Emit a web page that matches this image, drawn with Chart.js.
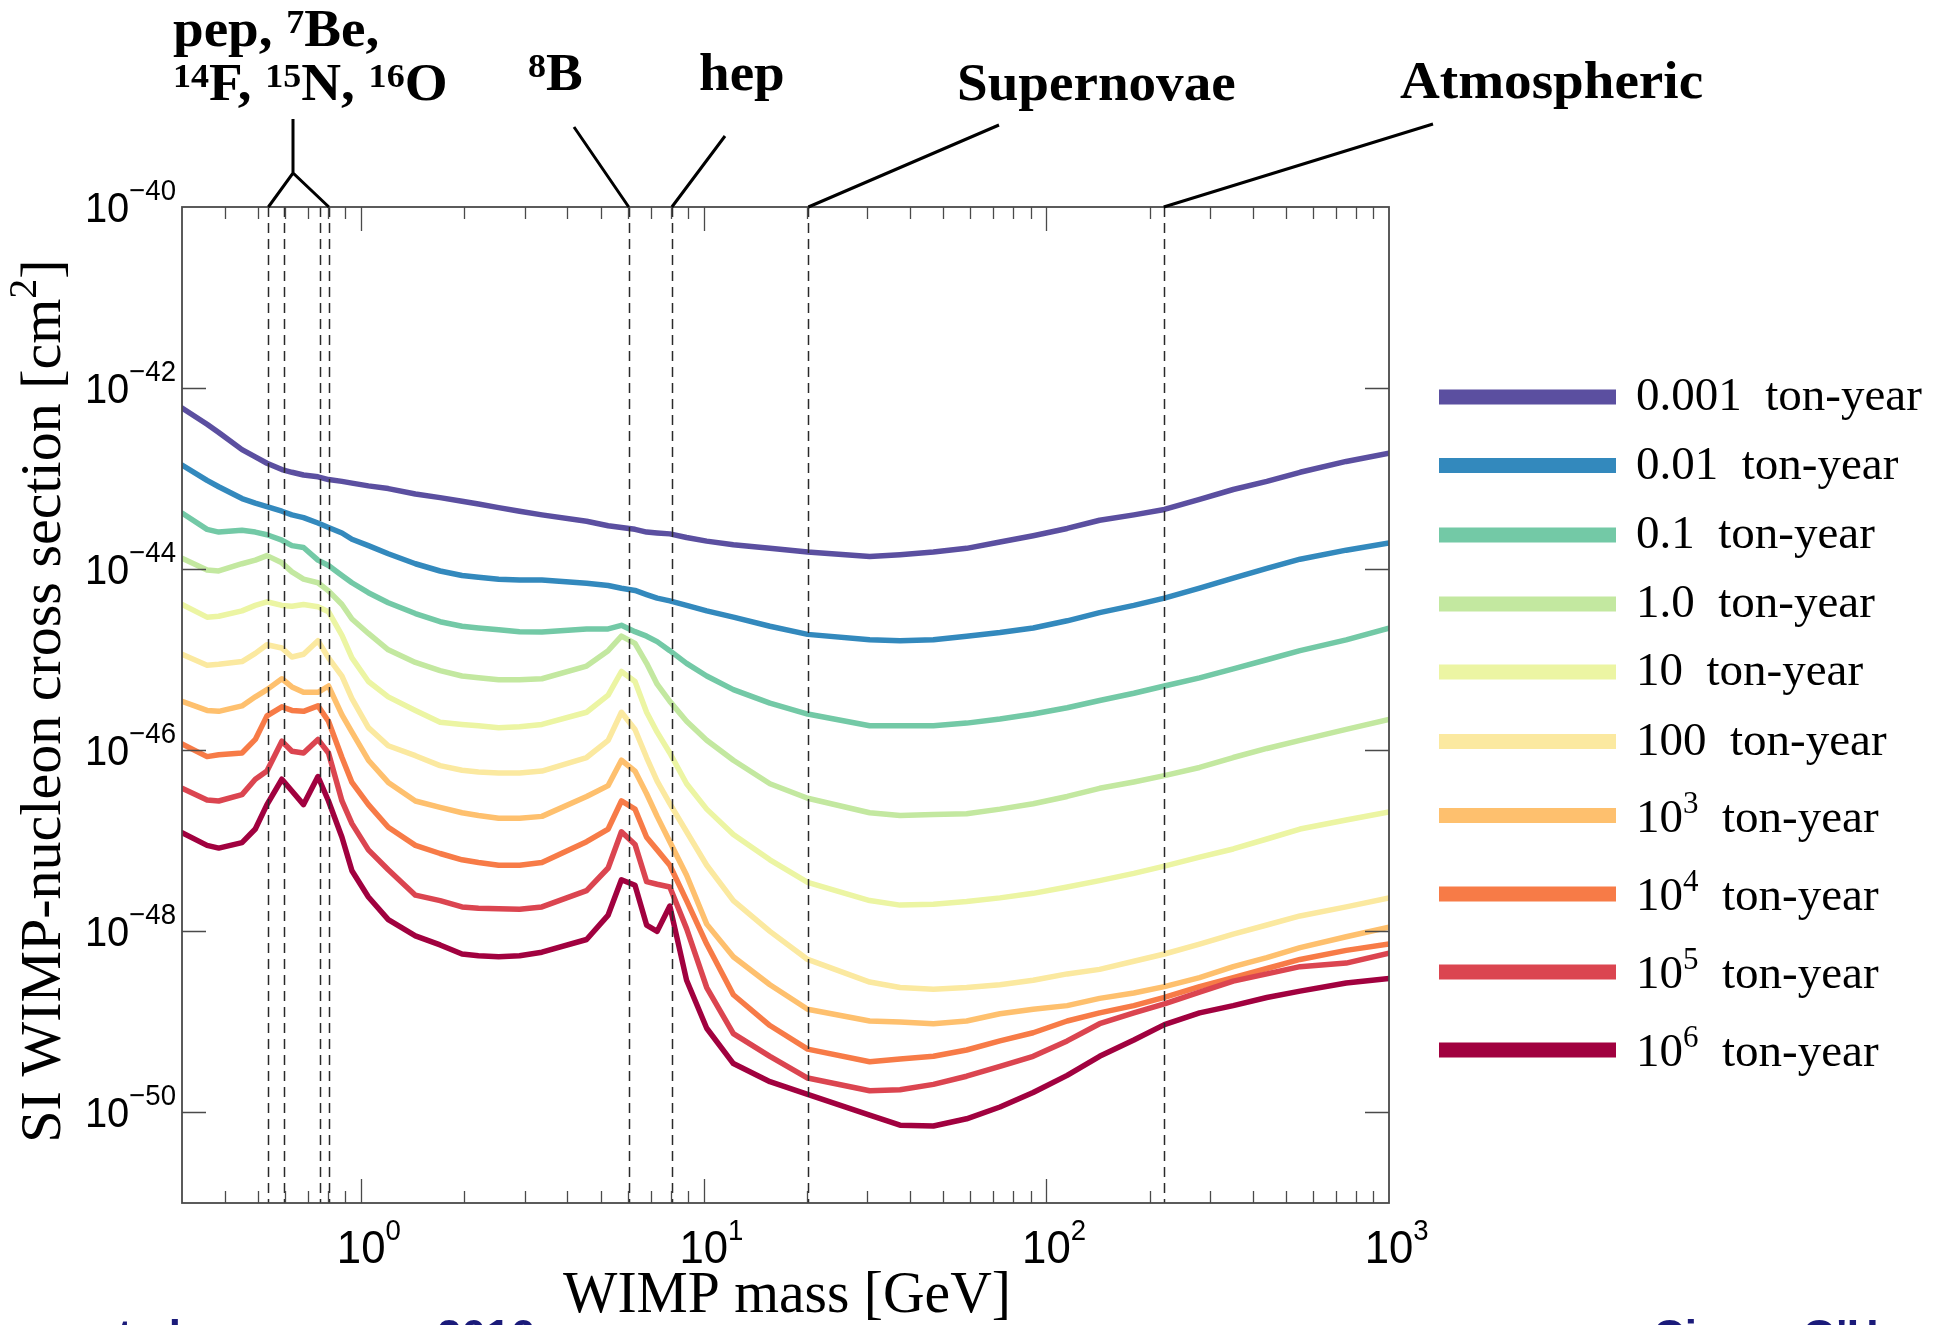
<!DOCTYPE html>
<html>
<head>
<meta charset="utf-8">
<title>WIMP discovery limits vs exposure</title>
<script src="https://cdn.jsdelivr.net/npm/chart.js@4.4.1/dist/chart.umd.min.js"></script>
<style>
  html, body { margin: 0; padding: 0; background: #fff; }
  canvas { display: block; }
</style>
</head>
<body>
<canvas id="limits" width="1945" height="1325"></canvas>
<script>
// WIMP masses [GeV] shared by every curve
const masses = [0.30, 0.355, 0.384, 0.449, 0.491, 0.531, 0.587, 0.628, 0.679, 0.748,
  0.803, 0.879, 0.94, 1.05, 1.20, 1.44, 1.7, 1.97, 2.2, 2.52,
  2.9, 3.37, 4.55, 5.26, 5.75, 6.30, 6.81, 7.31, 7.96, 8.91,
  10.2, 12.2, 15.6, 20.1, 30.5, 37.4, 46.8, 58.5, 73.2, 91.5,
  115, 143, 180, 221, 280, 351, 440, 550, 750, 1000];

// log10 of SI cross section [cm^2], one list per exposure
const tonYr0001 = [-42.22, -42.40, -42.49, -42.68, -42.76, -42.83, -42.90, -42.93, -42.96, -42.98,
  -43.01, -43.03, -43.05, -43.08, -43.11, -43.17, -43.21, -43.25, -43.28, -43.32,
  -43.36, -43.40, -43.47, -43.52, -43.54, -43.56, -43.59, -43.60, -43.61, -43.65,
  -43.69, -43.73, -43.77, -43.81, -43.86, -43.84, -43.81, -43.77, -43.70, -43.63,
  -43.55, -43.46, -43.40, -43.34, -43.23, -43.12, -43.03, -42.93, -42.81, -42.72];
const tonYr001 = [-42.85, -43.02, -43.09, -43.22, -43.27, -43.31, -43.36, -43.40, -43.43, -43.49,
  -43.54, -43.60, -43.67, -43.74, -43.83, -43.94, -44.02, -44.07, -44.09, -44.11,
  -44.12, -44.12, -44.155, -44.18, -44.21, -44.235, -44.28, -44.32, -44.35, -44.40,
  -44.46, -44.53, -44.63, -44.72, -44.78, -44.79, -44.78, -44.74, -44.70, -44.65,
  -44.57, -44.48, -44.40, -44.32, -44.21, -44.10, -43.99, -43.89, -43.79, -43.71];
const tonYr01 = [-43.38, -43.56, -43.59, -43.57, -43.59, -43.62, -43.68, -43.74, -43.76, -43.90,
  -43.96, -44.07, -44.15, -44.26, -44.37, -44.49, -44.58, -44.63, -44.65, -44.67,
  -44.69, -44.695, -44.66, -44.66, -44.62, -44.69, -44.74, -44.80, -44.90, -45.04,
  -45.18, -45.33, -45.48, -45.60, -45.73, -45.73, -45.73, -45.70, -45.655, -45.60,
  -45.53, -45.45, -45.37, -45.29, -45.20, -45.10, -45.00, -44.90, -44.78, -44.65];
const tonYr1 = [-43.88, -44.01, -44.02, -43.94, -43.90, -43.85, -43.93, -44.03, -44.11, -44.15,
  -44.24, -44.39, -44.55, -44.71, -44.89, -45.03, -45.12, -45.18, -45.20, -45.22,
  -45.22, -45.21, -45.07, -44.90, -44.74, -44.82, -45.04, -45.27, -45.46, -45.68,
  -45.89, -46.11, -46.37, -46.53, -46.69, -46.72, -46.71, -46.70, -46.65, -46.59,
  -46.51, -46.42, -46.35, -46.28, -46.19, -46.08, -45.98, -45.89, -45.77, -45.66];
const tonYr10 = [-44.39, -44.53, -44.52, -44.46, -44.40, -44.36, -44.40, -44.41, -44.39, -44.415,
  -44.47, -44.73, -44.98, -45.24, -45.41, -45.56, -45.69, -45.715, -45.73, -45.75,
  -45.74, -45.715, -45.58, -45.39, -45.13, -45.24, -45.58, -45.80, -46.03, -46.37,
  -46.65, -46.93, -47.21, -47.46, -47.66, -47.71, -47.70, -47.67, -47.63, -47.58,
  -47.51, -47.44, -47.36, -47.28, -47.18, -47.09, -46.98, -46.87, -46.77, -46.68];
const tonYr100 = [-44.94, -45.06, -45.05, -45.02, -44.93, -44.835, -44.87, -44.97, -44.94, -44.79,
  -44.98, -45.18, -45.43, -45.75, -45.95, -46.06, -46.17, -46.22, -46.24, -46.25,
  -46.25, -46.23, -46.08, -45.89, -45.58, -45.77, -46.08, -46.34, -46.59, -46.90,
  -47.27, -47.66, -48.00, -48.31, -48.56, -48.62, -48.64, -48.62, -48.59, -48.54,
  -48.47, -48.42, -48.33, -48.25, -48.14, -48.03, -47.93, -47.83, -47.73, -47.63];
const tonYr1e3 = [-45.46, -45.56, -45.57, -45.51, -45.41, -45.33, -45.21, -45.30, -45.36, -45.36,
  -45.29, -45.61, -45.80, -46.11, -46.355, -46.56, -46.63, -46.69, -46.72, -46.75,
  -46.75, -46.73, -46.51, -46.39, -46.11, -46.23, -46.48, -46.73, -47.01, -47.38,
  -47.92, -48.28, -48.59, -48.86, -48.99, -49.00, -49.02, -48.99, -48.91, -48.86,
  -48.82, -48.74, -48.68, -48.61, -48.51, -48.39, -48.29, -48.18, -48.06, -47.955];
const tonYr1e4 = [-45.93, -46.07, -46.05, -46.03, -45.88, -45.62, -45.52, -45.56, -45.57, -45.51,
  -45.68, -46.08, -46.355, -46.60, -46.85, -47.05, -47.14, -47.21, -47.24, -47.27,
  -47.27, -47.24, -47.01, -46.87, -46.56, -46.65, -46.96, -47.10, -47.27, -47.66,
  -48.14, -48.70, -49.04, -49.30, -49.44, -49.41, -49.38, -49.31, -49.21, -49.12,
  -48.99, -48.90, -48.82, -48.73, -48.61, -48.51, -48.41, -48.31, -48.21, -48.14];
const tonYr1e5 = [-46.42, -46.55, -46.56, -46.49, -46.32, -46.23, -45.90, -46.01, -46.03, -45.88,
  -46.03, -46.56, -46.81, -47.10, -47.32, -47.60, -47.66, -47.73, -47.745, -47.75,
  -47.755, -47.73, -47.55, -47.30, -46.90, -47.04, -47.45, -47.48, -47.51, -47.97,
  -48.62, -49.13, -49.38, -49.62, -49.76, -49.75, -49.69, -49.60, -49.49, -49.38,
  -49.21, -49.02, -48.90, -48.80, -48.67, -48.55, -48.47, -48.39, -48.35, -48.24];
const tonYr1e6 = [-46.91, -47.05, -47.08, -47.02, -46.87, -46.60, -46.32, -46.45, -46.60, -46.29,
  -46.56, -46.96, -47.33, -47.62, -47.87, -48.05, -48.15, -48.25, -48.27, -48.28,
  -48.27, -48.23, -48.09, -47.82, -47.43, -47.49, -47.93, -48.00, -47.72, -48.54,
  -49.07, -49.46, -49.66, -49.80, -50.03, -50.14, -50.15, -50.07, -49.94, -49.78,
  -49.59, -49.38, -49.20, -49.03, -48.90, -48.82, -48.73, -48.66, -48.57, -48.52];

const exposureLabels = ["0.001  ton-year", "0.01  ton-year", "0.1  ton-year", "1.0  ton-year",
  "10  ton-year", "100  ton-year", "10^{3}  ton-year", "10^{4}  ton-year", "10^{5}  ton-year", "10^{6}  ton-year"];
const lineColors = ["#5b4fa0", "#3389bd", "#73c9a6", "#c3e8a0", "#ecf5a3",
  "#fbe9a0", "#fec06e", "#f77b47", "#db4550", "#a1013f"];

// neutrino background edges (dashed lines) [GeV]
const neutrinoMasses = [0.536, 0.597, 0.760, 0.805, 6.04, 8.07, 20.2, 220];
const xTickExps = [0, 1, 2, 3];
const yTickExps = [-40, -42, -44, -46, -48, -50];

const allSeries = [tonYr0001, tonYr001, tonYr01, tonYr1, tonYr10, tonYr100, tonYr1e3, tonYr1e4, tonYr1e5, tonYr1e6];

const SERIF = '"Liberation Serif", "Times New Roman", serif';
const SANS = '"Liberation Sans", Arial, sans-serif';

// "pep, ^{7}Be," -> [{t:"pep, "}, {t:"7", sup:true}, {t:"Be,"}]
const parseRich = (str) => {
  const parts = [];
  const re = /\^\{([^}]*)\}/g;
  let last = 0, m;
  while ((m = re.exec(str)) !== null) {
    if (m.index > last) parts.push({ t: str.slice(last, m.index) });
    parts.push({ t: m[1], sup: true });
    last = re.lastIndex;
  }
  if (last < str.length) parts.push({ t: str.slice(last) });
  return parts;
};

const richText = (ctx, parts, x, y, o) => {
  const font = (s) => `${o.weight || "normal"} ${s}px ${o.family}`;
  let w = 0;
  parts.forEach((p) => {
    ctx.font = font(p.sup ? o.supSize : o.size);
    p.w = ctx.measureText(p.t).width;
    w += p.w;
  });
  ctx.save();
  ctx.translate(x, y);
  ctx.scale(o.sx || 1, 1);
  let cx = 0;
  if (o.align === "right") cx = -w;
  else if (o.align === "center") cx = -w / 2;
  else if (o.align === "first") cx = -parts[0].w / 2;
  ctx.fillStyle = o.color || "#000";
  ctx.textAlign = "left";
  ctx.textBaseline = "alphabetic";
  parts.forEach((p) => {
    ctx.font = font(p.sup ? o.supSize : o.size);
    ctx.fillText(p.t, cx, p.sup ? -o.raise : 0);
    cx += p.w;
  });
  ctx.restore();
};

const decorPlugin = {
  id: "decor",
  beforeDraw(chart) {
    const ctx = chart.ctx;
    ctx.save();
    ctx.fillStyle = "#fff";
    ctx.fillRect(0, 0, chart.width, chart.height);
    ctx.restore();
  },
  afterDatasetsDraw(chart) {
    const { ctx, chartArea: a } = chart;
    const xs = chart.scales.x;
    const ys = chart.scales.y;

    // dashed neutrino lines
    ctx.save();
    ctx.setLineDash([10, 6]);
    ctx.strokeStyle = "#2a2a2a";
    ctx.lineWidth = 1.5;
    neutrinoMasses.forEach((m) => {
      const px = Math.round(xs.getPixelForValue(m)) + 0.5;
      ctx.beginPath();
      ctx.moveTo(px, a.top);
      ctx.lineTo(px, a.bottom);
      ctx.stroke();
    });
    ctx.restore();

    // frame + inward ticks
    ctx.save();
    ctx.strokeStyle = "#4a4a4a";
    ctx.lineWidth = 1.8;
    ctx.strokeRect(a.left, a.top, a.right - a.left, a.bottom - a.top);
    ctx.lineWidth = 1.3;
    ctx.beginPath();
    [0.1, 1, 10, 100].forEach((d) => {
      for (let k = 1; k <= 9; k++) {
        const v = k * d;
        if (v <= 0.3 + 1e-9 || v >= 1000) continue;
        const len = k === 1 ? 24 : 12;
        const px = Math.round(xs.getPixelForValue(v)) + 0.5;
        ctx.moveTo(px, a.bottom);
        ctx.lineTo(px, a.bottom - len);
        ctx.moveTo(px, a.top);
        ctx.lineTo(px, a.top + len);
      }
    });
    yTickExps.forEach((e) => {
      if (e === -40) return;
      const py = Math.round(ys.getPixelForValue(Math.pow(10, e))) + 0.5;
      ctx.moveTo(a.left, py);
      ctx.lineTo(a.left + 24, py);
      ctx.moveTo(a.right, py);
      ctx.lineTo(a.right - 24, py);
    });
    ctx.stroke();
    ctx.restore();

    // tick labels
    yTickExps.forEach((e) => {
      const py = ys.getPixelForValue(Math.pow(10, e));
      richText(ctx, [{ t: "10" }, { t: "\u2212" + Math.abs(e), sup: true }], 176, py + 15,
        { size: 42, supSize: 29, raise: 22, family: SANS, align: "right", sx: 0.95 });
    });
    xTickExps.forEach((e) => {
      const px = xs.getPixelForValue(Math.pow(10, e));
      richText(ctx, [{ t: "10" }, { t: String(e), sup: true }], px, 1263,
        { size: 46, supSize: 29, raise: 23, family: SANS, align: "first", sx: 0.95 });
    });

    // axis titles
    richText(ctx, [{ t: "WIMP mass [GeV]" }], 787, 1312,
      { size: 60, family: SERIF, align: "center", sx: 0.96 });
    ctx.save();
    ctx.translate(60, 701);
    ctx.rotate(-Math.PI / 2);
    richText(ctx, parseRich("SI WIMP-nucleon cross section [cm^{2}]"), 0, 0,
      { size: 58, supSize: 40, raise: 24, family: SERIF, align: "center" });
    ctx.restore();

    // neutrino source labels
    const lab = { size: 52, supSize: 34, raise: 13, family: SERIF, weight: "bold", sx: 1.06 };
    richText(ctx, parseRich("pep, ^{7}Be,"), 173, 46, lab);
    richText(ctx, parseRich("^{14}F, ^{15}N, ^{16}O"), 173, 100, lab);
    richText(ctx, parseRich("^{8}B"), 528, 90, lab);
    richText(ctx, parseRich("hep"), 699, 90, lab);
    richText(ctx, parseRich("Supernovae"), 957, 100, lab);
    richText(ctx, parseRich("Atmospheric"), 1400, 98, lab);

    // leader lines
    ctx.save();
    ctx.strokeStyle = "#000";
    ctx.lineWidth = 3;
    ctx.beginPath();
    ctx.moveTo(293, 119);
    ctx.lineTo(293, 173);
    ctx.moveTo(xs.getPixelForValue(0.536), a.top);
    ctx.lineTo(293, 173);
    ctx.lineTo(xs.getPixelForValue(0.805), a.top);
    ctx.moveTo(574, 127);
    ctx.lineTo(xs.getPixelForValue(6.04), a.top);
    ctx.moveTo(725, 136);
    ctx.lineTo(xs.getPixelForValue(8.07), a.top);
    ctx.moveTo(999, 125);
    ctx.lineTo(xs.getPixelForValue(20.2), a.top);
    ctx.moveTo(1433, 124);
    ctx.lineTo(xs.getPixelForValue(220), a.top);
    ctx.stroke();
    ctx.restore();

    // legend
    const rowY = [397, 465.5, 535, 604, 672, 741.5, 815.5, 894, 972, 1050];
    chart.data.datasets.forEach((ds, i) => {
      const y = rowY[i];
      ctx.save();
      ctx.strokeStyle = ds.borderColor;
      ctx.lineWidth = 15;
      ctx.lineCap = "butt";
      ctx.beginPath();
      ctx.moveTo(1439, y);
      ctx.lineTo(1616, y);
      ctx.stroke();
      ctx.restore();
      const parts = parseRich(ds.label);
      const hasSup = parts.some((p) => p.sup);
      richText(ctx, parts, 1636, y + (hasSup ? 16 : 13),
        { size: 47, supSize: 31, raise: 19, family: SERIF });
    });

    // cut-off footer of the slide
    const foot = { size: 44, family: SANS, weight: "bold", color: "#1b1b7a" };
    richText(ctx, [{ t: "et al." }], 93, 1351, foot);
    richText(ctx, [{ t: "2016" }], 437, 1351, foot);
    richText(ctx, [{ t: "Ciaran O'Hare" }], 1653, 1351, foot);
  },
};

const datasets = allSeries.map((logs, i) => ({
  label: exposureLabels[i],
  data: masses.map((m, j) => ({ x: m, y: Math.pow(10, logs[j]) })),
  borderColor: lineColors[i],
  borderWidth: 5.5,
  pointRadius: 0,
  tension: 0,
  fill: false,
  borderJoinStyle: "round",
  borderCapStyle: "round",
  order: allSeries.length - i,
}));

new Chart(document.getElementById("limits"), {
  type: "line",
  data: { datasets },
  options: {
    responsive: false,
    animation: false,
    devicePixelRatio: 1,
    layout: { padding: { left: 182, top: 207, right: 556, bottom: 122 } },
    plugins: {
      legend: { display: false },
      tooltip: { enabled: false },
    },
    scales: {
      x: { type: "logarithmic", min: 0.3, max: 1000, display: false },
      y: { type: "logarithmic", min: 1e-51, max: 1e-40, display: false },
    },
  },
  plugins: [decorPlugin],
});
</script>
</body>
</html>
